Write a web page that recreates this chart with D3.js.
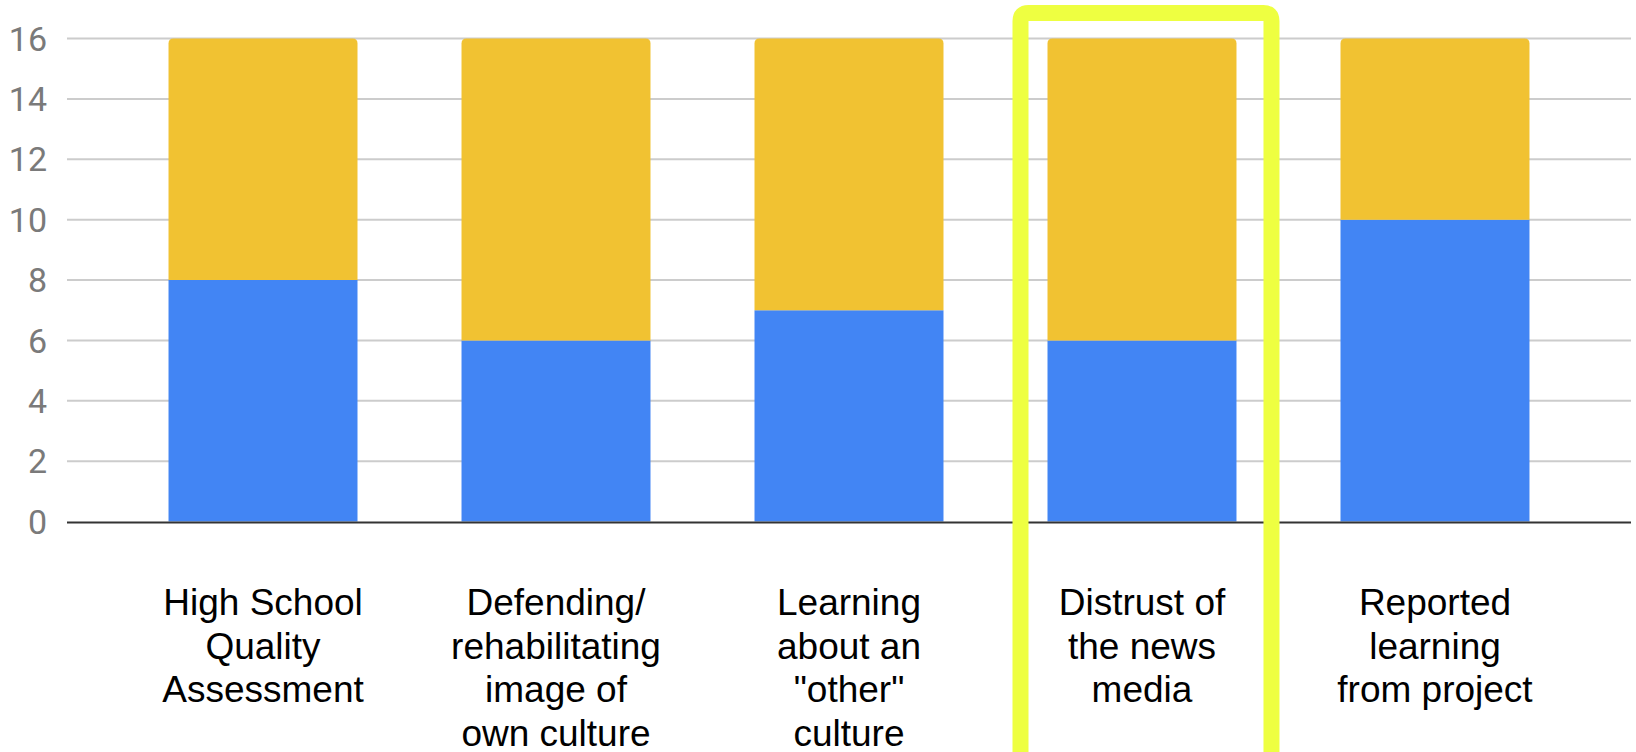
<!DOCTYPE html>
<html>
<head>
<meta charset="utf-8">
<script src="https://cdn.jsdelivr.net/npm/d3@7"></script>
<style>
html,body{margin:0;padding:0;background:#fff;}
svg{display:block;}
</style>
</head>
<body>
<svg id="chart" width="1636" height="752"></svg>
<script>
const categories = [
  ["High School", "Quality", "Assessment"],
  ["Defending/", "rehabilitating", "image of", "own culture"],
  ["Learning", "about an", "\"other\"", "culture"],
  ["Distrust of", "the news", "media"],
  ["Reported", "learning", "from project"]
];
const seriesBlue = [8, 6, 7, 6, 10];
const seriesYellow = [8, 10, 9, 10, 6];
const yTicks = [0, 2, 4, 6, 8, 10, 12, 14, 16];
const highlightIndex = 3;

const W = 1636, H = 752;
const svg = d3.select("#chart");
const keys = categories.map((c, i) => i);

const x = d3.scaleBand().domain(keys).range([67, 1631]).paddingInner(0.355).paddingOuter(0.3465);
const y = d3.scaleLinear().domain([0, 16]).range([521.5, 38.5]);

// gridlines
svg.append("g").selectAll("line").data(yTicks.filter(t => t !== 0)).join("line")
  .attr("x1", 67).attr("x2", 1631)
  .attr("y1", d => y(d)).attr("y2", d => y(d))
  .attr("stroke", "#cccccc").attr("stroke-width", 2);

// y tick labels
svg.append("g").selectAll("text").data(yTicks).join("text")
  .attr("x", 47).attr("y", d => y(d)).attr("dy", "0.36em")
  .attr("text-anchor", "end")
  .attr("font-family", "Roboto, 'Noto Sans', sans-serif")
  .attr("font-size", 34).attr("fill", "#7a7a7a")
  .text(d => d);

const stackData = keys.map(i => ({ i, blue: seriesBlue[i], yellow: seriesYellow[i] }));
const stack = d3.stack().keys(["blue", "yellow"])(stackData);
const colors = { blue: "#4285f4", yellow: "#f1c232" };

function barPath(x0, x1, yTop, yBot, r) {
  if (r <= 0) return `M${x0},${yBot}V${yTop}H${x1}V${yBot}Z`;
  return `M${x0},${yBot}V${yTop + r}Q${x0},${yTop} ${x0 + r},${yTop}H${x1 - r}Q${x1},${yTop} ${x1},${yTop + r}V${yBot}Z`;
}

stack.forEach((layer, li) => {
  svg.append("g").selectAll("path").data(layer).join("path")
    .attr("d", d => {
      const x0 = x(d.data.i), x1 = x0 + x.bandwidth();
      return barPath(x0, x1, y(d[1]), y(d[0]), li === stack.length - 1 ? 5 : 0);
    })
    .attr("fill", colors[layer.key]);
});

// baseline
svg.append("line").attr("x1", 67).attr("x2", 1631)
  .attr("y1", y(0) + 1).attr("y2", y(0) + 1)
  .attr("stroke", "#333333").attr("stroke-width", 2);

// category labels
const labels = svg.append("g").selectAll("text").data(keys).join("text")
  .attr("x", d => x(d) + x.bandwidth() / 2)
  .attr("y", 615)
  .attr("text-anchor", "middle")
  .attr("font-family", "'Liberation Sans', Arial, sans-serif")
  .attr("font-size", 37).attr("fill", "#000");
labels.selectAll("tspan").data(d => categories[d]).join("tspan")
  .attr("x", function() { return this.parentNode.getAttribute("x"); })
  .attr("dy", (d, j) => j === 0 ? 0 : 43.5)
  .text(d => d);

// highlight annotation
const hx0 = x(highlightIndex) - 27, hx1 = x(highlightIndex) + x.bandwidth() + 35;
const hy0 = 13, hr = 8;
svg.append("path")
  .attr("d", `M${hx0},${H + 20}V${hy0 + hr}Q${hx0},${hy0} ${hx0 + hr},${hy0}H${hx1 - hr}Q${hx1},${hy0} ${hx1},${hy0 + hr}V${H + 20}`)
  .attr("fill", "none").attr("stroke", "#eeff41").attr("stroke-width", 16);
</script>
</body>
</html>
